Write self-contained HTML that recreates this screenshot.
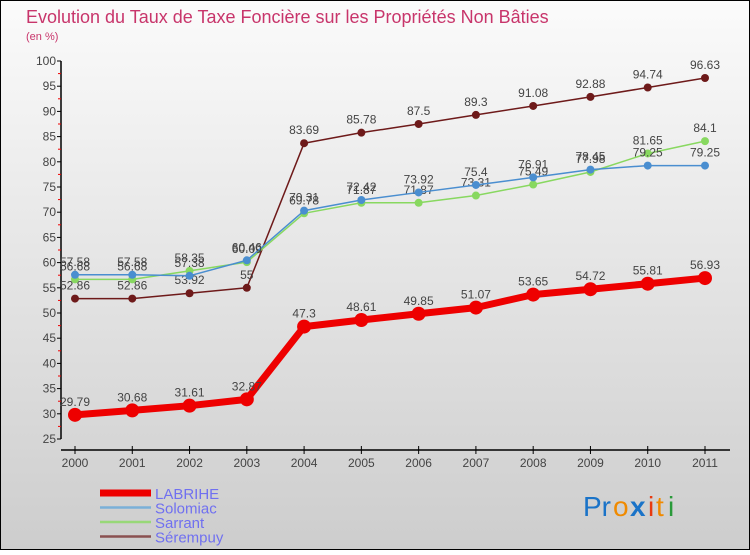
<!DOCTYPE html>
<html><head><meta charset="utf-8"><style>
html,body{margin:0;padding:0}
body{width:750px;height:550px;overflow:hidden;font-family:"Liberation Sans","DejaVu Sans",sans-serif}
</style></head><body>
<svg id="chart" width="750" height="550" xmlns="http://www.w3.org/2000/svg">
<defs><linearGradient id="bg" x1="0" y1="0" x2="0" y2="1"><stop offset="0" stop-color="#fbfbfb"/><stop offset="1" stop-color="#cdcdcd"/></linearGradient></defs>
<rect x="0.5" y="0.5" width="749" height="549" fill="url(#bg)" stroke="#000" stroke-width="1"/>
<text x="26" y="23" font-size="18" fill="#c8356b">Evolution du Taux de Taxe Foncière sur les Propriétés Non Bâties</text>
<text x="26" y="40" font-size="11" fill="#c8356b">(en %)</text>
<g id="axes"></g>
<g id="series"></g>
<g id="legend"></g>
<g font-size="28">
<text x="583" y="516" fill="#1a73c8">Pr</text><text x="613" y="516" fill="#f08a00">o</text><text x="630" y="516" fill="#1a73c8" font-weight="bold">x</text><text x="648" y="516" fill="#e83a10">i</text><text x="656" y="516" fill="#f08a00">t</text><text x="668" y="516" fill="#2a9a3a">i</text>
</g>
</svg>
<script>
const years=[2000,2001,2002,2003,2004,2005,2006,2007,2008,2009,2010,2011];
const labrihe=[29.79,30.68,31.61,32.87,47.3,48.61,49.85,51.07,53.65,54.72,55.81,56.93];
const solomiac=[57.58,57.58,57.38,60.46,70.31,72.42,73.92,75.4,76.91,78.45,79.25,79.25];
const sarrant=[56.68,56.68,58.35,60.09,69.78,71.87,71.87,73.31,75.49,77.98,81.65,84.1];
const serempuy=[52.86,52.86,53.92,55,83.69,85.78,87.5,89.3,91.08,92.88,94.74,96.63];
const yTicks=[25,30,35,40,45,50,55,60,65,70,75,80,85,90,95,100];
const seriesNames=["LABRIHE","Solomiac","Sarrant","Sérempuy"];
const NS="http://www.w3.org/2000/svg";
const X=i=>75+i*(630/11);
const Y=v=>439-(v-25)*(378/75);
function mk(tag,attrs,parent){const e=document.createElementNS(NS,tag);for(const k in attrs)e.setAttribute(k,attrs[k]);parent.appendChild(e);return e;}
const axes=document.getElementById('axes');
let yl=mk('line',{x1:61,y1:Y(100),x2:61,y2:Y(25),stroke:'#000','stroke-width':1.5},axes);


yTicks.forEach(t=>{
  mk('line',{x1:57,y1:Y(t),x2:61,y2:Y(t),stroke:'#000'},axes);
  if(t<100){mk('line',{x1:58,y1:Y(t+2.5),x2:61,y2:Y(t+2.5),stroke:'#e00'},axes);}
  const tx=mk('text',{x:56,y:Y(t)+4,'font-size':12,fill:'#444','text-anchor':'end'},axes);
  
  
  tx.textContent=t;
});
let xl=mk('line',{x1:61,y1:450,x2:730,y2:450,stroke:'#000','stroke-width':1.5},axes);


years.forEach((yr,i)=>{
  mk('line',{x1:X(i),y1:446,x2:X(i),y2:454,stroke:'#000'},axes);
  const tx=mk('text',{x:X(i),y:467,'font-size':12,fill:'#444','text-anchor':'middle'},axes);
  
  
  tx.textContent=yr;
});
const sg=document.getElementById('series');
function draw(vals,color,w,r,name){
  const g=mk('g',{},sg);
  
  
  mk('polyline',{points:vals.map((v,i)=>X(i)+','+Y(v)).join(' '),fill:'none',stroke:color,'stroke-width':w,'stroke-linejoin':'round'},g);
  vals.forEach((v,i)=>{
    const c=mk('circle',{cx:X(i),cy:Y(v),r:r,fill:color},g);
    
    
    const t=mk('text',{x:X(i),y:Y(v)-9,'font-size':12,fill:'#444','text-anchor':'middle'},g);
    
    
    t.textContent=v;
  });
}
draw(serempuy,'#6e1a1a',1.5,4,'serempuy');
draw(sarrant,'#88d860',1.5,4,'sarrant');
draw(solomiac,'#4a8ed0',1.5,4,'solomiac');
draw(labrihe,'#ee0000',7,7,'labrihe');
const lg=document.getElementById('legend');
const lcols=['#ee0000','#7ab0d8','#98d878','#8a5050'];
const lw=[7,2.5,2.5,2.5];
seriesNames.forEach((n,i)=>{
  const y=493+i*14.5;
  const g=mk('g',{},lg);
  
  
  mk('line',{x1:100,y1:y,x2:151,y2:y,stroke:lcols[i],'stroke-width':lw[i]},g);
  const t=mk('text',{x:155,y:y+6,'font-size':15,fill:'#7070f0'},g);
  t.textContent=n;
});
</script>
</body></html>
